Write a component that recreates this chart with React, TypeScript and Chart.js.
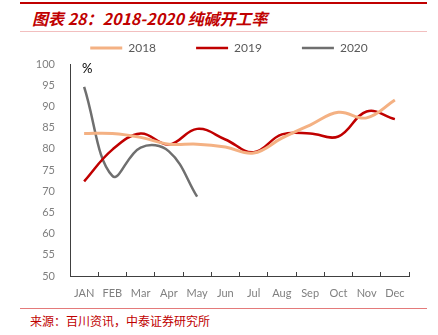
import React, { useEffect, useRef } from 'react';
import Chart from 'chart.js/auto';

const months = ['JAN', 'FEB', 'Mar', 'Apr', 'May', 'Jun', 'Jul', 'Aug', 'Sep', 'Oct', 'Nov', 'Dec'];
const series2018 = [83.6, 83.6, 82.7, 81.1, 81.1, 80.4, 79.0, 82.5, 85.6, 88.6, 87.3, 91.5];
const series2019 = [72.3, 79.8, 83.6, 81.0, 84.7, 82.2, 79.2, 83.4, 83.6, 82.9, 88.8, 87.0];
const series2020 = [94.6, 73.6, 80.3, 79.4, 68.7, null, null, null, null, null, null, null];
const seriesNames = ['2018', '2019', '2020'];
const yMin = 50;
const yMax = 100;
const yStep = 5;

const titleText = '图表 28：2018-2020 纯碱开工率';
const sourceText = '来源：百川资讯，中泰证券研究所';

export default function App() {
  const canvasRef = useRef<HTMLCanvasElement | null>(null);

  useEffect(() => {
    if (!canvasRef.current) return;
    const tickFont = { family: 'Lato, "Noto Sans", sans-serif', size: 11 };
    const percentPlugin = {
      id: 'percentLabel',
      afterDraw(chart: any) {
        const { ctx, chartArea } = chart;
        ctx.save();
        ctx.font = '13px Lato, "Noto Sans", sans-serif';
        ctx.fillStyle = '#000000';
        ctx.textAlign = 'left';
        ctx.textBaseline = 'middle';
        ctx.fillText('%', chartArea.left + 12, chartArea.top + 5);
        ctx.restore();
      },
    };
    const chart = new Chart(canvasRef.current, {
      type: 'line',
      data: {
        labels: months,
        datasets: [
          { label: seriesNames[0], data: series2018, borderColor: '#F4B183', backgroundColor: '#F4B183', borderWidth: 3, tension: 0.4, pointRadius: 0 },
          { label: seriesNames[1], data: series2019, borderColor: '#C00000', backgroundColor: '#C00000', borderWidth: 2.5, tension: 0.4, pointRadius: 0 },
          { label: seriesNames[2], data: series2020, borderColor: '#6F6F6F', backgroundColor: '#6F6F6F', borderWidth: 2.5, tension: 0.4, pointRadius: 0 },
        ],
      },
      options: {
        animation: false,
        responsive: true,
        maintainAspectRatio: false,
        layout: { padding: { left: 20, right: 0, top: 0, bottom: 0 } },
        plugins: {
          legend: {
            position: 'top',
            labels: {
              usePointStyle: true,
              pointStyle: 'line',
              pointStyleWidth: 32,
              padding: 40,
              color: '#595959',
              font: { family: 'Lato, "Noto Sans", sans-serif', size: 12 },
            },
          },
          tooltip: { enabled: false },
        },
        scales: {
          x: {
            offset: true,
            grid: { display: true, offset: true, drawOnChartArea: false, tickLength: -4, color: '#404040' },
            border: { display: true, color: '#404040', width: 1 },
            ticks: { color: '#7F7F7F', font: tickFont, padding: 15, maxRotation: 0 },
            afterFit(scale: any) { scale.height = 28; },
          },
          y: {
            min: yMin,
            max: yMax,
            ticks: { stepSize: yStep, color: '#7F7F7F', font: tickFont, padding: 7 },
            grid: { display: false },
            border: { display: true, color: '#404040', width: 1 },
            afterFit(scale: any) { scale.width = 50; },
          },
          yRight: {
            position: 'right',
            display: true,
            ticks: { display: false },
            grid: { display: false },
            border: { display: false },
            afterFit(scale: any) { scale.width = 29; },
          },
        },
      },
      plugins: [percentPlugin],
    });
    return () => chart.destroy();
  }, []);

  return (
    <div style={{ position: 'fixed', left: 0, top: 0, width: 438, height: 335, background: '#ffffff', overflow: 'hidden' }}>
      <div style={{ position: 'absolute', left: 20, top: 2, width: 407, height: 2, background: '#C00000' }} />
      <div style={{ position: 'absolute', left: 32, top: 8, fontFamily: '"Noto Sans CJK SC", sans-serif', fontSize: 16, fontWeight: 700, fontStyle: 'italic', color: '#C00000', lineHeight: '20px', whiteSpace: 'nowrap' }}>{titleText}</div>
      <div style={{ position: 'absolute', left: 20, top: 31, width: 407, height: 1, background: '#F2BFBF' }} />
      <div style={{ position: 'absolute', left: 0, top: 2, width: 438, height: 302 }}>
        <canvas ref={canvasRef} />
      </div>
      <div style={{ position: 'absolute', left: 20, top: 308, width: 407, height: 1, background: '#E47A7A' }} />
      <div style={{ position: 'absolute', left: 30, top: 313, fontFamily: '"Noto Sans CJK SC", sans-serif', fontSize: 12, color: '#C00000', lineHeight: '16px', whiteSpace: 'nowrap' }}>{sourceText}</div>
    </div>
  );
}
